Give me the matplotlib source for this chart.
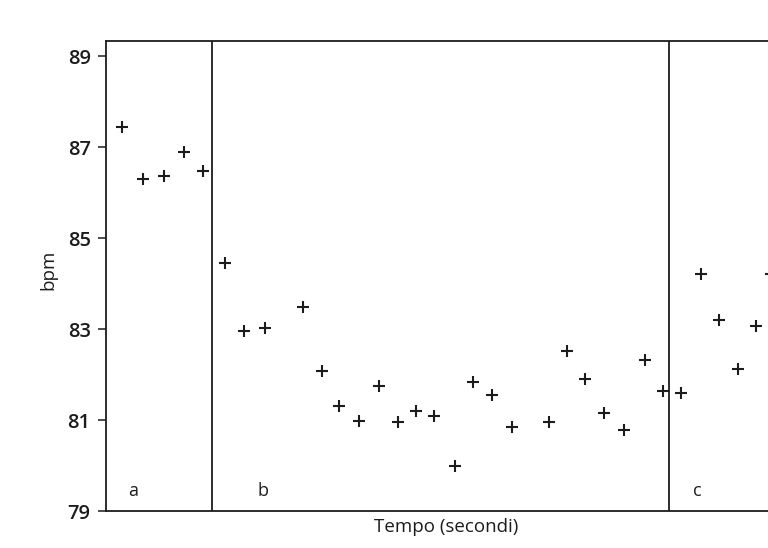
import matplotlib
matplotlib.use("Agg")
import matplotlib.pyplot as plt

plt.rcParams['font.family'] = ['Open Sans', 'DejaVu Sans']

# Heart rate (bpm) over time, three phases a / b / c
t_a = [0.8, 1.85, 2.9, 3.9, 4.85]
bpm_a = [87.45, 86.31, 86.37, 86.89, 86.48]

t_b = [5.95, 6.9, 7.95, 9.85, 10.8, 11.65, 12.65, 13.65, 14.6, 15.5, 16.4,
       17.45, 18.35, 19.3, 20.3, 22.15, 23.05, 23.95, 24.9, 25.9, 26.95, 27.85]
bpm_b = [84.46, 82.97, 83.02, 83.48, 82.07, 81.32, 80.98, 81.74, 80.95, 81.19,
         81.08, 79.98, 81.83, 81.56, 80.84, 80.95, 82.51, 81.90, 81.15, 80.78,
         82.33, 81.64]

t_c = [28.75, 29.75, 30.65, 31.6, 32.5, 33.25]
bpm_c = [81.60, 84.22, 83.21, 82.12, 83.06, 84.22]

phase_breaks = [5.3, 28.15]
phase_labels = ['a', 'b', 'c']
phase_label_x = [1.35, 7.85, 29.55]

y_ticks = [79, 81, 83, 85, 87, 89]

ink = '#1c1c1c'

fig = plt.figure(figsize=(7.68, 5.48), dpi=100)
ax = fig.add_axes([0.138, 0.0675, 0.912, 0.857])

for t, b in ((t_a, bpm_a), (t_b, bpm_b), (t_c, bpm_c)):
    ax.plot(t, b, linestyle='none', marker='+', markersize=8.5,
            markeredgewidth=1.5, color=ink)

for xb in phase_breaks:
    ax.axvline(xb, color=ink, linewidth=1.3)

for lab, xl in zip(phase_labels, phase_label_x):
    ax.text(xl, 79.45, lab, fontsize=13, fontweight='medium', color=ink,
            ha='center', va='center')

ax.set_xlim(0, 35)
ax.set_ylim(79, 89.33)
ax.set_yticks(y_ticks)
ax.set_yticklabels([str(v) for v in y_ticks], fontweight='semibold')
ax.tick_params(axis='y', direction='out', length=6, width=1.1, colors=ink,
               labelsize=14.5, pad=5)
ax.set_xticks([])

for side in ('left', 'bottom', 'top', 'right'):
    ax.spines[side].set_color(ink)
    ax.spines[side].set_linewidth(1.3)

fig.text(48 / 768, 1 - 270 / 548, 'bpm', rotation=90, fontsize=13.5,
         fontweight='medium', color=ink, ha='center', va='center')
fig.text(446 / 768, 1 - 527 / 548, 'Tempo (secondi)', fontsize=13.5,
         fontweight='medium', color=ink, ha='center', va='center')

fig.savefig('out.png', dpi=100, facecolor='white')
